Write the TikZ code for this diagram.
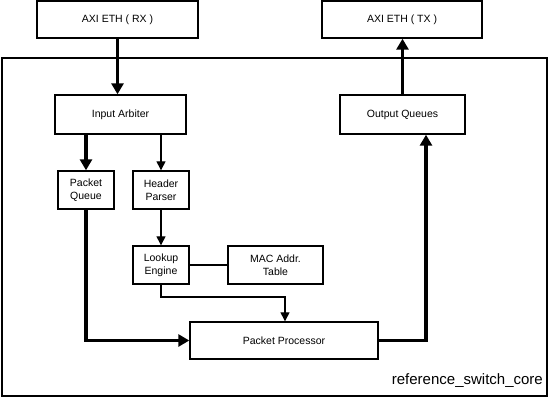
\documentclass[tikz,border=0pt]{standalone}
\usepackage{fontspec}
\setmainfont{Liberation Sans}
\usetikzlibrary{arrows.meta}
\begin{document}
\begin{tikzpicture}[x=1pt,y=-1pt,
  blk/.style={draw=black, line width=1.4pt, fill=white, inner sep=0pt, align=center, font=\fontsize{10.5}{13}\selectfont},
  bigarrow/.style={line width=3.8pt, -{Triangle[length=11pt,width=12pt]}},
  thinarrow/.style={line width=1.3pt, -{Triangle[length=9pt,width=9pt]}},
  thinline/.style={line width=1.3pt}]
\useasboundingbox (0,0) rectangle (553,400);
\node[draw=black, line width=1.4pt, minimum width=545pt, minimum height=338pt, inner sep=0pt] (core) at (274.5,227) {};
\node[anchor=south east, inner sep=0pt, font=\fontsize{15}{17}\selectfont] (lbl) at (543,388) {reference\_switch\_core};
\node[blk, minimum width=161pt, minimum height=37pt] (rx) at (117.5,19.5) {AXI ETH ( RX )};
\node[blk, minimum width=160pt, minimum height=37pt] (tx) at (402,19.5) {AXI ETH ( TX )};
\node[blk, minimum width=131pt, minimum height=39pt] (arb) at (120.5,114.5) {Input Arbiter};
\node[blk, minimum width=125pt, minimum height=39pt] (oq) at (402.5,114.5) {Output Queues};
\node[blk, minimum width=56pt, minimum height=38pt] (pq) at (86,190) {Packet\\Queue};
\node[blk, minimum width=56pt, minimum height=38pt] (hp) at (161,190) {Header\\Parser};
\node[blk, minimum width=56pt, minimum height=38pt] (le) at (161,265) {Lookup\\Engine};
\node[blk, minimum width=95pt, minimum height=38pt] (mac) at (275.5,265) {MAC Addr.\\Table};
\node[blk, minimum width=188pt, minimum height=37pt] (pp) at (284,340.5) {Packet Processor};
\coordinate (c1) at (285,297);
\coordinate (c2) at (426,340.5);
\draw[bigarrow] (rx.south) -- (rx.south |- arb.north);
\draw[bigarrow] (pq.north |- arb.south) -- (pq.north);
\draw[thinarrow] (hp.north |- arb.south) -- (hp.north);
\draw[thinarrow] (hp.south) -- (le.north);
\draw[thinline] (le.east) -- (mac.west);
\draw[thinarrow] (le.south) |- (c1) -- (c1 |- pp.north);
\draw[bigarrow] (pq.south) |- (pp.west);
\draw[bigarrow] (pp.east) -- (c2) -- (c2 |- oq.south);
\draw[bigarrow] (oq.north) -- (oq.north |- tx.south);
\end{tikzpicture}
\end{document}
